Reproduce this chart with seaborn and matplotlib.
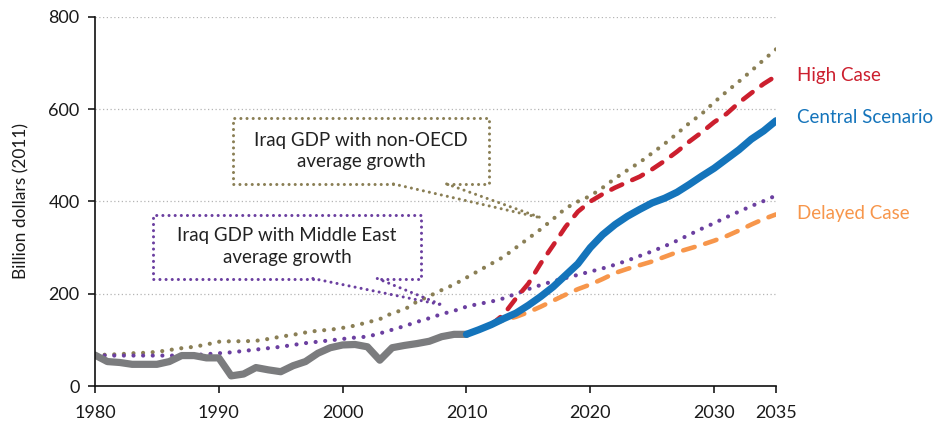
import numpy as np
import pandas as pd
import matplotlib
matplotlib.use("Agg")
import matplotlib.pyplot as plt
import seaborn as sns

# data (billion dollars, 2011)
hist_years = list(range(1980, 2011))
hist_gdp = [67, 53, 51, 47, 47, 47, 53, 66, 66, 61, 61, 22, 26, 40, 35, 31,
            44, 53, 71, 83, 89, 90, 85, 56, 83, 88, 92, 97, 107, 112, 112]

all_years = list(range(1980, 2036))
non_oecd = [67, 68, 69, 71, 72, 74, 78, 82, 85, 90, 96, 97, 97, 98, 102, 107,
            111, 116, 120, 122, 126, 131, 138, 145, 158, 166, 183, 195, 208, 220,
            235, 250, 265, 280, 300, 320, 340, 362, 385, 400, 412, 430, 450, 468,
            485, 505, 525, 547, 570, 590, 615, 638, 660, 683, 707, 730]
middle_east = [67, 66, 66, 66, 66, 66, 66, 66, 67, 69, 71, 73, 76, 79, 82, 85,
               89, 93, 96, 99, 102, 105, 107, 114, 122, 130, 139, 147, 156, 163,
               172, 178, 183, 190, 200, 210, 219, 227, 234, 241, 248, 255, 263, 272,
               282, 292, 303, 315, 328, 341, 353, 366, 378, 390, 401, 413]

central_years = list(range(2010, 2036))
central = [112, 122, 133, 146, 158, 175, 194, 215, 240, 265, 300, 328, 350, 368,
           383, 397, 407, 420, 437, 455, 472, 492, 512, 535, 553, 575]

case_years = list(range(2012, 2036))
high_case = [133, 155, 190, 222, 266, 305, 345, 378, 400, 416, 430, 442, 454, 470,
             488, 508, 530, 550, 572, 590, 614, 635, 655, 672]
delayed_case = [133, 143, 150, 160, 172, 185, 198, 210, 220, 232, 245, 254, 262, 270,
                280, 290, 298, 306, 315, 325, 337, 350, 362, 372]

x_ticks = [1980, 1990, 2000, 2010, 2020, 2030, 2035]
y_ticks = [0, 200, 400, 600, 800]

c_hist = "#7b7c7e"
c_central = "#1474bb"
c_high = "#cc1f2e"
c_delay = "#f7964b"
c_olive = "#8a7f55"
c_purple = "#6b3fa0"

sns.set_theme(style="white")
plt.rcParams["font.family"] = ["Lato", "DejaVu Sans"]

fig = plt.figure(figsize=(9.48, 4.24), dpi=100)
ax = fig.add_axes([0.1002, 0.0896, 0.7184, 0.8704])

dot = (0, (0.01, 2.3))
ax.yaxis.grid(True, color="#b5b5b5", linestyle=(0, (1, 2)), lw=0.9)
ax.set_axisbelow(True)

sns.lineplot(x=all_years, y=non_oecd, ax=ax, color=c_olive, lw=3.0,
             linestyle=dot, dash_capstyle="round")
sns.lineplot(x=all_years, y=middle_east, ax=ax, color=c_purple, lw=3.0,
             linestyle=dot, dash_capstyle="round")
sns.lineplot(x=case_years, y=delayed_case, ax=ax, color=c_delay, lw=3.3,
             linestyle=(0, (2.6, 2.4)), dash_capstyle="round")
sns.lineplot(x=case_years, y=high_case, ax=ax, color=c_high, lw=3.3,
             linestyle=(0, (2.6, 2.4)), dash_capstyle="round")
sns.lineplot(x=hist_years, y=hist_gdp, ax=ax, color=c_hist, lw=5.2,
             solid_capstyle="round", solid_joinstyle="round")
sns.lineplot(x=central_years, y=central, ax=ax, color=c_central, lw=5.2,
             solid_capstyle="round", solid_joinstyle="round")

ax.set_xlim(1980, 2035)
ax.set_ylim(0, 800)
ax.set_xticks(x_ticks)
ax.set_yticks(y_ticks)
ax.tick_params(axis="both", labelsize=13, colors="#1a1a1a", direction="out",
               length=5, width=1.2, bottom=True, left=True)
ax.tick_params(axis="x", pad=9)
ax.tick_params(axis="y", pad=6)
ax.set_ylabel("Billion dollars (2011)", fontsize=12.5, color="#1a1a1a", labelpad=14)
for s in ["top", "right"]:
    ax.spines[s].set_visible(False)
for s in ["left", "bottom"]:
    ax.spines[s].set_color("#111111")
    ax.spines[s].set_linewidth(1.2)

# callout boxes with a wedge pointing at the line
def callout(x0, x1, y0, y1, gap0, gap1, tip, color, text):
    kw = dict(color=color, lw=2.2, linestyle=(0, (0.01, 2.0)),
              dash_capstyle="round", clip_on=False)
    ax.plot([gap0, x0, x0, x1, x1, gap1], [y0, y0, y1, y1, y0, y0], **kw)
    ax.plot([gap0, tip[0]], [y0, tip[1]], **kw)
    ax.plot([gap1, tip[0]], [y0, tip[1]], **kw)
    ax.text((x0 + x1) / 2, (y0 + y1) / 2, text, ha="center", va="center",
            fontsize=13.5, color="#222222", linespacing=1.35)

callout(1991.15, 2011.8, 438, 581, 2004.1, 2008.4, (2016.1, 364), c_olive,
        "Iraq GDP with non-OECD\naverage growth")
callout(1984.7, 2006.3, 233, 371, 1997.6, 2002.8, (2008.0, 176), c_purple,
        "Iraq GDP with Middle East\naverage growth")

ax.text(2036.7, 674, "High Case", color=c_high, fontsize=13.5, va="center", clip_on=False)
ax.text(2036.7, 583, "Central Scenario", color=c_central, fontsize=13.5, va="center", clip_on=False)
ax.text(2036.7, 375, "Delayed Case", color=c_delay, fontsize=13.5, va="center", clip_on=False)

fig.savefig("out.png", dpi=100)
